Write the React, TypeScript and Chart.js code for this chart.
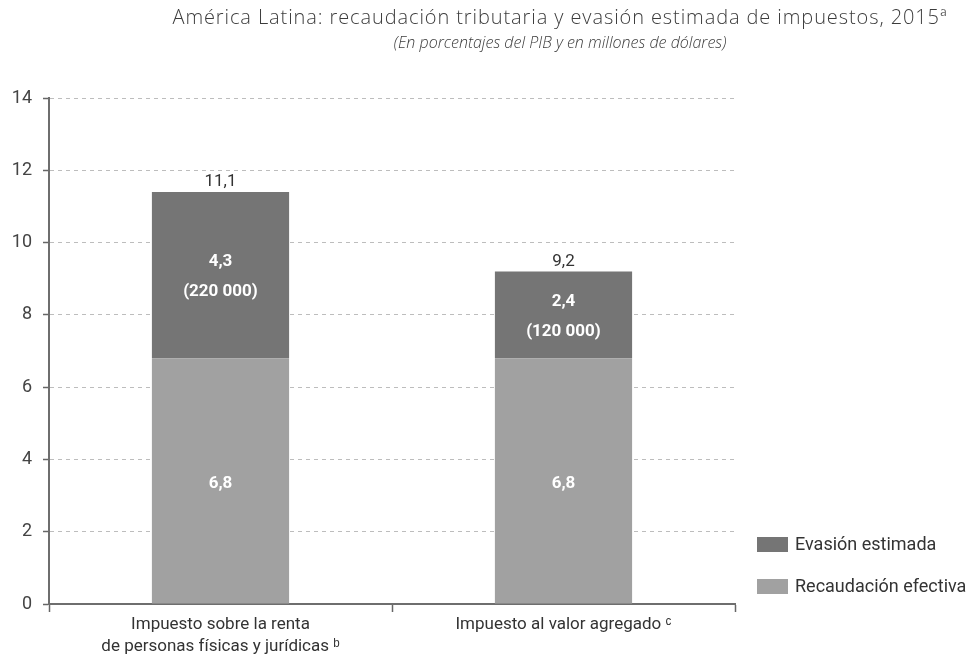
import React, { useEffect, useRef } from "react";
import { Chart, registerables } from "chart.js";

Chart.register(...registerables);

// ---- data ----
const categories: string[][] = [
  ["Impuesto sobre la renta", "de personas físicas y jurídicas ᵇ"],
  ["Impuesto al valor agregado ᶜ"],
];
const recaudacion = [6.8, 6.8];
// heights of the dark segments as drawn in the reference
const evasion = [4.6, 2.4];
const recaudacionLabels = ["6,8", "6,8"];
const evasionLabels = ["4,3", "2,4"];
const evasionMillones = ["(220 000)", "(120 000)"];
const totalLabels = ["11,1", "9,2"];
const yTicks = [0, 2, 4, 6, 8, 10, 12, 14];
const titleText = "América Latina: recaudación tributaria y evasión estimada de impuestos, 2015ª";
const subtitleText = "(En porcentajes del PIB y en millones de dólares)";
const legendLabels = ["Evasión estimada", "Recaudación efectiva"];

const COND = "Roboto, sans-serif";
const DARK = "#757575";
const LIGHT = "#a1a1a1";

const labelsPlugin = {
  id: "customLabels",
  afterDatasetsDraw(chart: any) {
    const ctx = chart.ctx;
    ctx.save();
    ctx.textAlign = "center";
    ctx.textBaseline = "middle";
    const m0 = chart.getDatasetMeta(0);
    const m1 = chart.getDatasetMeta(1);
    for (let i = 0; i < categories.length; i++) {
      const b0 = m0.data[i];
      const b1 = m1.data[i];
      ctx.fillStyle = "#ffffff";
      ctx.font = `bold 17px ${COND}`;
      ctx.fillText(recaudacionLabels[i], b0.x, (b0.y + b0.base) / 2 + 3);
      const c1 = (b1.y + b1.base) / 2 + 2;
      ctx.fillText(evasionLabels[i], b1.x, c1 - 15);
      ctx.fillText(evasionMillones[i], b1.x, c1 + 15);
      ctx.fillStyle = "#333333";
      ctx.font = `17px ${COND}`;
      ctx.fillText(totalLabels[i], b1.x, b1.y - 10);
    }
    ctx.restore();
  },
  afterDraw(chart: any) {
    const ctx = chart.ctx;
    ctx.save();
    ctx.textAlign = "center";
    ctx.textBaseline = "middle";
    ctx.fillStyle = "#3c3c3c";
    try {
      (ctx as any).letterSpacing = "0.9px";
    } catch (e) {}
    ctx.font = "300 20px 'Open Sans', 'Lato', sans-serif";
    ctx.fillText(titleText, 560, 18);
    try {
      (ctx as any).letterSpacing = "0px";
    } catch (e) {}
    ctx.font = "italic 300 16px 'Open Sans', 'Lato', sans-serif";
    ctx.fillText(subtitleText, 560, 43);
    // legend
    const colors = [DARK, LIGHT];
    const ys = [544, 586];
    ctx.textAlign = "left";
    ctx.font = `18px ${COND}`;
    for (let i = 0; i < legendLabels.length; i++) {
      ctx.fillStyle = colors[i];
      ctx.fillRect(757, ys[i] - 7, 31, 15);
      ctx.fillStyle = "#333333";
      ctx.fillText(legendLabels[i], 795, ys[i] + 1);
    }
    ctx.restore();
  },
};

export default function App() {
  const ref = useRef<HTMLCanvasElement | null>(null);
  useEffect(() => {
    if (!ref.current) return;
    const chart = new Chart(ref.current, {
      type: "bar",
      data: {
        labels: categories as any,
        datasets: [
          {
            label: legendLabels[1],
            data: recaudacion,
            backgroundColor: LIGHT,
            barPercentage: 0.4,
            categoryPercentage: 1,
          },
          {
            label: legendLabels[0],
            data: evasion,
            backgroundColor: DARK,
            barPercentage: 0.4,
            categoryPercentage: 1,
          },
        ],
      },
      options: {
        animation: false,
        responsive: true,
        maintainAspectRatio: false,
        layout: { padding: { top: 98, right: 234, left: 0, bottom: 0 } },
        plugins: {
          legend: { display: false },
          title: { display: false },
          tooltip: { enabled: false },
        },
        scales: {
          x: {
            stacked: true,
            grid: {
              display: true,
              drawOnChartArea: false,
              offset: true,
              tickLength: 8,
              tickColor: "#666666",
              tickWidth: 1.5,
            },
            border: { display: true, color: "#6e6e6e", width: 2 },
            ticks: {
              color: "#333333",
              padding: 2,
              font: { family: COND, size: 17, lineHeight: 1.3 },
            },
            afterFit: (s: any) => {
              s.height = 55;
            },
          },
          y: {
            stacked: true,
            min: 0,
            max: 14,
            afterBuildTicks: (s: any) => {
              s.ticks = yTicks.map((v) => ({ value: v }));
            },
            grid: {
              color: "#bdbdbd",
              lineWidth: 1,
              tickLength: 6,
              tickColor: "#666666",
              tickWidth: 1.5,
            },
            border: { display: true, color: "#6e6e6e", width: 2, dash: [4, 4] },
            ticks: {
              color: "#444444",
              padding: 11,
              font: { family: COND, size: 18 },
            },
            afterFit: (s: any) => {
              s.width = 49;
            },
          },
        },
      },
      plugins: [labelsPlugin],
    });
    return () => chart.destroy();
  }, []);
  return (
    <div style={{ position: "fixed", left: 0, top: 0, width: 969, height: 659, background: "#fff" }}>
      <canvas ref={ref} />
    </div>
  );
}
